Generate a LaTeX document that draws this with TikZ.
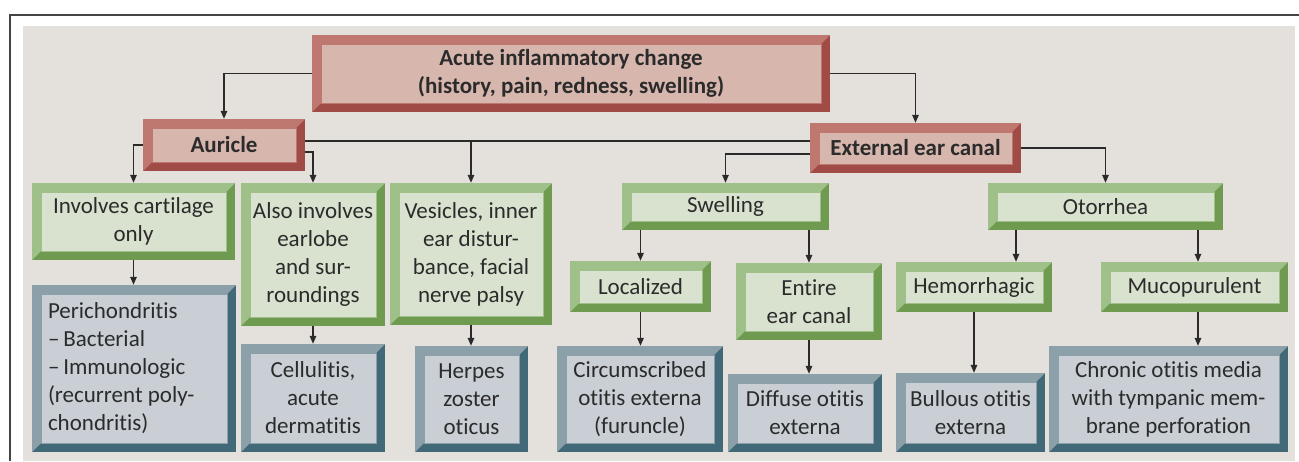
\documentclass[tikz,border=0pt]{standalone}
\usepackage{fontspec}
\setmainfont{Carlito}[Ligatures=CommonOff]
\usetikzlibrary{arrows.meta}
\definecolor{bgc}{HTML}{E4E1DC}
\definecolor{framec}{HTML}{444444}
\definecolor{txt}{HTML}{2B2B2B}
\definecolor{lnc}{HTML}{2A2A2A}
\definecolor{rdD}{HTML}{A04B46}
\definecolor{rdL}{HTML}{BE7870}
\definecolor{rdF}{HTML}{D7B7AD}
\definecolor{grD}{HTML}{6E9B50}
\definecolor{grL}{HTML}{A0C08A}
\definecolor{grF}{HTML}{D9E2CF}
\definecolor{blD}{HTML}{416978}
\definecolor{blL}{HTML}{8CA0AA}
\definecolor{blF}{HTML}{C9CFD5}
\newcommand\mybox[8][]{\node[#2,minimum width={(#6-#4)*1pt},minimum height={(#7-#5)*1pt},#1] (#3) at ({(#4+#6)/2},{(#5+#7)/2}) {#8};}
\tikzset{
  bev/.style n args={3}{draw=none, fill=#1, inner sep=0pt, align=center, text=txt,
    font=\fontsize{23}{28}\selectfont,
    path picture={
      \fill[#2] (path picture bounding box.north west) -- (path picture bounding box.north east)
        -- ([xshift=-9pt,yshift=-9pt]path picture bounding box.north east)
        -- ([xshift=9pt,yshift=-9pt]path picture bounding box.north west)
        -- ([xshift=9pt,yshift=9pt]path picture bounding box.south west)
        -- (path picture bounding box.south west) -- cycle;
      \filldraw[fill=#3, draw=#2, line width=0.8pt]
        ([xshift=9pt,yshift=-9pt]path picture bounding box.north west) rectangle
        ([xshift=-9pt,yshift=9pt]path picture bounding box.south east);
    }},
  redbox/.style={bev={rdD}{rdL}{rdF}, font=\bfseries\fontsize{23}{28}\selectfont},
  greenbox/.style={bev={grD}{grL}{grF}},
  bluebox/.style={bev={blD}{blL}{blF}},
  conn/.style={draw=lnc, line width=1.4pt},
  arr/.style={conn, -{Triangle[length=8pt,width=6.5pt]}},
}
\begin{document}
\begin{tikzpicture}[x=1pt,y=-1pt]
\useasboundingbox (0,0) rectangle (1299,461);
\fill[bgc] (23,26) rectangle (1295,461);
\draw[framec, line width=2pt] (1299,15) -- (10,15) -- (10,461);

% level 0/1
\mybox{redbox}{top}{312}{35}{830}{112}{Acute inflammatory change\\(history, pain, redness, swelling)}
\mybox{redbox}{auricle}{143}{119}{305}{171}{Auricle}
\mybox{redbox}{eec}{810}{123}{1021}{173}{External ear canal}

% green row 1
\mybox{greenbox}{g1}{32}{183}{235}{260}{Involves cartilage\\only}
\mybox{greenbox}{g2}{241}{183}{385}{326}{Also involves\\earlobe\\and sur-\\roundings}
\mybox{greenbox}{g3}{390}{183}{552}{325}{Vesicles, inner\\ear distur-\\bance, facial\\nerve palsy}
\mybox{greenbox}{swell}{622}{183}{829}{230}{Swelling}
\mybox{greenbox}{oto}{988}{183}{1223}{230}{Otorrhea}

% green row 2
\mybox{greenbox}{loc}{570}{261}{711}{312}{Localized}
\mybox{greenbox}{ent}{736}{263}{882}{340}{Entire\\ear canal}
\mybox{greenbox}{hem}{896}{262}{1052}{312}{Hemorrhagic}
\mybox{greenbox}{muc}{1101}{262}{1288}{312}{Mucopurulent}

% blue diagnoses
\mybox[text width=172pt, align=flush left]{bluebox}{peri}{32}{285}{236}{452}{Perichondritis\\–\,Bacterial\\–\,Immunologic\\(recurrent poly-\\chondritis)}
\mybox{bluebox}{cell}{241}{344}{385}{452}{Cellulitis,\\acute\\dermatitis}
\mybox{bluebox}{herp}{415}{346}{528}{452}{Herpes\\zoster\\oticus}
\mybox{bluebox}{circ}{557}{346}{723}{452}{Circumscribed\\otitis externa\\(furuncle)}
\mybox{bluebox}{diff}{728}{374}{882}{452}{Diffuse otitis\\externa}
\mybox{bluebox}{bull}{896}{373}{1045}{452}{Bullous otitis\\externa}
\mybox{bluebox}{chron}{1049}{346}{1288}{452}{Chronic otitis media\\with tympanic mem-\\brane perforation}

% helper coordinates for off-centre arrows
\coordinate (hemin) at ([xshift=42pt]hem.north);
\coordinate (mucin) at ([xshift=3.5pt]muc.north);
\coordinate (mucout) at ([xshift=3.5pt]muc.south);

% connectors
\draw[arr] (top.west) -| (auricle.north);
\draw[arr] (top.east) -| (eec.north);
\draw[arr] (auricle.west) -| (g1.north);
\draw[arr] ([yshift=-7pt]auricle.east) -| (g2.north);
\draw[conn] ([yshift=4pt]auricle.east) -- ([yshift=4pt]auricle.east -| eec.west);
\draw[arr] ([yshift=4pt]auricle.east -| g3.north) -- (g3.north);
\draw[arr] ([yshift=-6pt]eec.west) -| (swell.north);
\draw[arr] (eec.east) -| (oto.north);
\draw[arr] (swell.south -| loc.north) -- (loc.north);
\draw[arr] (swell.south -| ent.north) -- (ent.north);
\draw[arr] (oto.south -| hemin) -- (hemin);
\draw[arr] (oto.south -| mucin) -- (mucin);
\draw[arr] (g1.south) -- (g1.south |- peri.north);
\draw[arr] (g2.south) -- (g2.south |- cell.north);
\draw[arr] (g3.south) -- (g3.south |- herp.north);
\draw[arr] (loc.south) -- (loc.south |- circ.north);
\draw[arr] (ent.south) -- (ent.south |- diff.north);
\draw[arr] (hem.south) -- (hem.south |- bull.north);
\draw[arr] (mucout) -- (mucout |- chron.north);
\end{tikzpicture}
\end{document}
